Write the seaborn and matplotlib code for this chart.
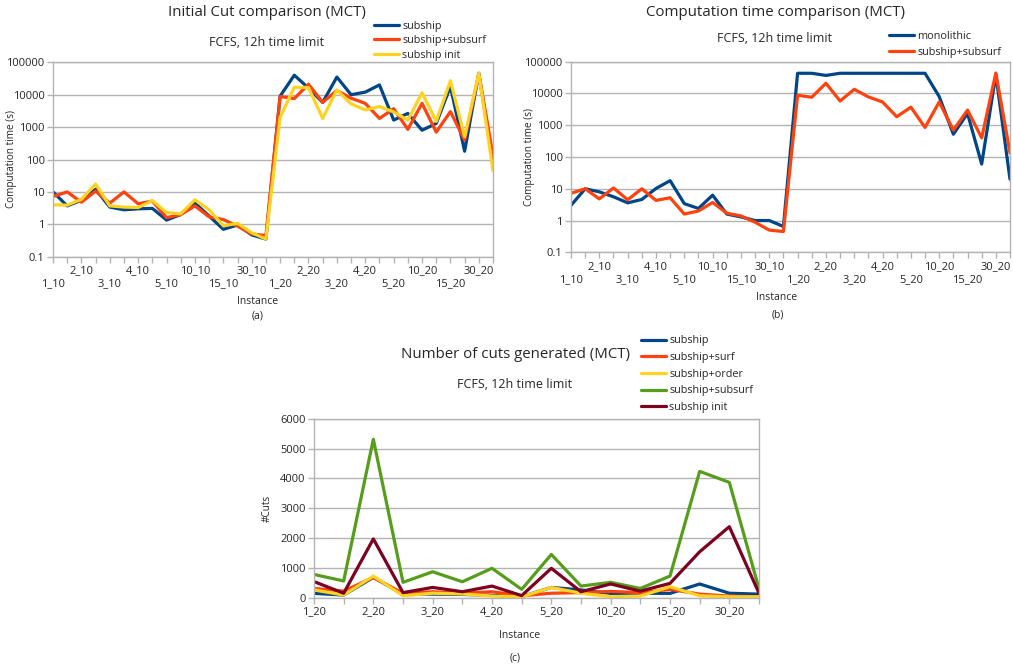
import numpy as np
import pandas as pd
import matplotlib
matplotlib.use('Agg')
import matplotlib.pyplot as plt
import seaborn as sns

# --- data ---
labels_a = ['1_10', '2_10', '3_10', '4_10', '5_10', '10_10', '15_10', '30_10',
            '1_20', '2_20', '3_20', '4_20', '5_20', '10_20', '15_20', '30_20']
labels_c = ['1_20', '2_20', '3_20', '4_20', '5_20', '10_20', '15_20', '30_20']

subship = [10, 3.7, 5.5, 12, 3.4, 2.8, 3.0, 3.1, 1.35, 2.0, 4.5, 1.8, 0.7, 0.95, 0.47, 0.35,
           9000, 40000, 16000, 5800, 35000, 10000, 12000, 20000, 1650, 2650, 800, 1300, 18000, 180, 46000, 80]
subship_subsurf = [7.2, 10, 4.8, 10.6, 4.5, 10, 4.3, 5.2, 1.6, 2.0, 3.7, 1.7, 1.4, 0.88, 0.5, 0.45,
                   8800, 7600, 21000, 5800, 13500, 7800, 5400, 1850, 3700, 850, 5400, 700, 3000, 400, 44000, 135]
subship_init = [4.0, 3.9, 5.9, 17.5, 3.7, 3.4, 3.3, 5.4, 2.3, 2.1, 5.7, 2.8, 0.9, 1.07, 0.55, 0.35,
                2000, 17000, 16500, 1850, 14000, 5200, 3400, 4300, 2950, 1650, 11500, 1500, 27000, 500, 46000, 45]
monolithic = [3.0, 10, 8.0, 5.6, 3.6, 4.6, 10.2, 18, 3.4, 2.4, 6.3, 1.6, 1.3, 1.0, 1.0, 0.65,
              43200, 43200, 37000, 43200, 43200, 43200, 43200, 43200, 43200, 43200, 8000, 520, 2350, 60, 39000, 20]

cuts_subship = [145, 90, 680, 120, 120, 110, 80, 35, 345, 260, 145, 150, 145, 460, 150, 120]
cuts_surf = [310, 220, 680, 145, 200, 150, 200, 65, 150, 170, 210, 170, 280, 120, 55, 30]
cuts_order = [260, 90, 725, 65, 150, 125, 55, 30, 345, 150, 30, 55, 370, 65, 30, 30]
cuts_subsurf = [780, 560, 5310, 515, 870, 535, 985, 280, 1450, 390, 515, 310, 725, 4235, 3865, 300]
cuts_init = [540, 150, 1970, 170, 345, 200, 390, 70, 985, 200, 460, 220, 480, 1540, 2380, 150]

BLUE, RED, YEL, GRN, DRED = '#004586', '#ff420e', '#ffd320', '#579d1c', '#7e0021'
GRID = '#b3b3b3'

sns.set_theme(style='white')
plt.rcParams['font.family'] = ['Open Sans', 'DejaVu Sans']

W, H = 1013, 669
fig = plt.figure(figsize=(W / 100, H / 100), dpi=100)


def px_axes(l, t, r, b):
    return fig.add_axes([l / W, 1 - b / H, (r - l) / W, (b - t) / H])


def long_df(series, names):
    frames = []
    for vals, name in zip(series, names):
        frames.append(pd.DataFrame({'pos': np.arange(len(vals)), 'value': vals, 'series': name}))
    return pd.concat(frames, ignore_index=True)


def style_axes(ax):
    for s in ax.spines.values():
        s.set_color(GRID)
        s.set_linewidth(1.0)
    ax.grid(axis='y', color=GRID, linewidth=1.0)
    ax.grid(axis='x', visible=False)
    ax.set_axisbelow(True)
    ax.tick_params(axis='both', which='major', length=4, width=1.0, color=GRID,
                   labelsize=8, pad=2, bottom=True, left=True)
    ax.tick_params(axis='y', which='minor', length=0)


def add_legend(ax, x, y, spacing):
    h, l = ax.get_legend_handles_labels()
    ax.legend(h, l, loc='upper left', bbox_to_anchor=(x / W, 1 - y / H),
              bbox_transform=fig.transFigure, frameon=False, fontsize=7.8,
              handlelength=2.3, handletextpad=0.3, labelspacing=spacing,
              borderaxespad=0, borderpad=0)


def log_panel(ax, series, names, colors, n, ylab_x):
    df = long_df(series, names)
    sns.lineplot(data=df, x='pos', y='value', hue='series', palette=colors,
                 linewidth=2.3, ax=ax, legend=True)
    ax.set_yscale('log')
    ax.set_ylim(0.1, 100000)
    ax.set_xlim(0, n - 1)
    yt = [0.1, 1, 10, 100, 1000, 10000, 100000]
    ax.set_yticks(yt)
    ax.set_yticklabels(['0.1', '1', '10', '100', '1000', '10000', '100000'])
    ax.yaxis.set_minor_locator(matplotlib.ticker.NullLocator())
    ax.set_xticks(range(n))
    tl = []
    for i in range(n):
        if i % 2 == 0:
            k = i // 2
            tl.append(labels_a[k] if k % 2 == 1 else '\n' + labels_a[k])
        else:
            tl.append('')
    ax.set_xticklabels(tl, linespacing=1.3)
    ax.set_xlabel('')
    ax.set_ylabel('Computation time (s)', fontsize=7.2)
    ax.yaxis.set_label_coords(ylab_x, 0.5)
    style_axes(ax)


# (a)
ax1 = px_axes(53, 62.3, 493, 256.7)
log_panel(ax1, [subship, subship_subsurf, subship_init],
          ['subship', 'subship+subsurf', 'subship init'], [BLUE, RED, YEL], 32, -0.082)
fig.text(267 / W, 1 - 12 / H, 'Initial Cut comparison (MCT)', ha='center', va='center', fontsize=10.8)
fig.text(267 / W, 1 - 42 / H, 'FCFS, 12h time limit', ha='center', va='center', fontsize=9)
fig.text(258 / W, 1 - 302 / H, 'Instance', ha='center', va='center', fontsize=7.5)
fig.text(258 / W, 1 - 316 / H, '(a)', ha='center', va='center', fontsize=7.5)
add_legend(ax1, 374, 20.5, 0.35)

# (b)
ax2 = px_axes(571, 61.7, 1010, 252.3)
log_panel(ax2, [monolithic, subship_subsurf],
          ['monolithic', 'subship+subsurf'], [BLUE, RED], 32, -0.083)
fig.text(775 / W, 1 - 12 / H, 'Computation time comparison (MCT)', ha='center', va='center', fontsize=10.8)
fig.text(775 / W, 1 - 39 / H, 'FCFS, 12h time limit', ha='center', va='center', fontsize=9)
fig.text(777 / W, 1 - 298 / H, 'Instance', ha='center', va='center', fontsize=7.5)
fig.text(778 / W, 1 - 315 / H, '(b)', ha='center', va='center', fontsize=7.5)
add_legend(ax2, 889, 31, 0.45)

# (c)
ax3 = px_axes(314, 418.7, 759, 597.7)
dfc = long_df([cuts_subship, cuts_surf, cuts_order, cuts_subsurf, cuts_init],
              ['subship', 'subship+surf', 'subship+order', 'subship+subsurf', 'subship init'])
sns.lineplot(data=dfc, x='pos', y='value', hue='series',
             palette=[BLUE, RED, YEL, GRN, DRED], linewidth=2.3, ax=ax3)
ax3.set_ylim(0, 6000)
ax3.set_yticks(range(0, 6001, 1000))
ax3.set_xlim(0, 15)
ax3.set_xticks(range(16))
ax3.set_xticklabels([labels_c[i // 2] if i % 2 == 0 else '' for i in range(16)])
ax3.set_xlabel('')
ax3.set_ylabel('#Cuts', fontsize=7.2)
ax3.yaxis.set_label_coords(-0.093, 0.5)
style_axes(ax3)
fig.text(515 / W, 1 - 354 / H, 'Number of cuts generated (MCT)', ha='center', va='center', fontsize=10.8)
fig.text(515 / W, 1 - 384 / H, 'FCFS, 12h time limit', ha='center', va='center', fontsize=9)
fig.text(520 / W, 1 - 635 / H, 'Instance', ha='center', va='center', fontsize=7.5)
fig.text(515 / W, 1 - 658 / H, '(c)', ha='center', va='center', fontsize=7.5)
add_legend(ax3, 641, 335.5, 0.52)

fig.savefig('out.png', dpi=100, facecolor='white')
